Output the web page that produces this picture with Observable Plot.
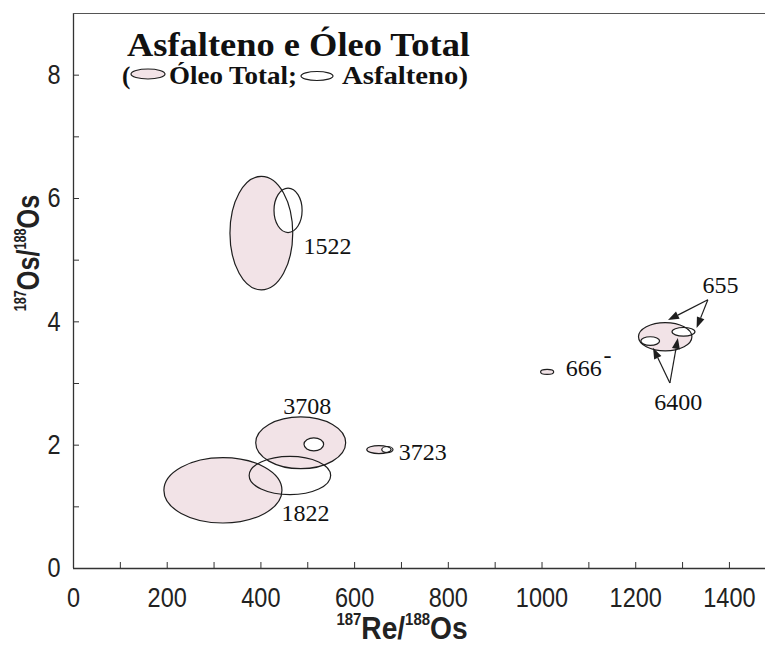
<!DOCTYPE html>
<html>
<head>
<meta charset="utf-8">
<script src="https://cdn.jsdelivr.net/npm/d3@7"></script>
<script src="https://cdn.jsdelivr.net/npm/@observablehq/plot@0.6"></script>
<style>
  body { margin: 0; background: #fff; }
  #chart { width: 765px; height: 646px; }
</style>
</head>
<body>
<div id="chart"></div>
<script>
// Óleo Total: centre (187Re/188Os, 187Os/188Os) and half-axes of each uncertainty ellipse
const oleoAmostras = ["1522", "3708", "1822", "3723", "666", "655"];
const oleoRe = [402, 486, 320, 653, 1012, 1264];
const oleoOs = [5.43, 2.03, 1.26, 1.92, 3.18, 3.75];
const oleoErroRe = [67, 96, 126, 26, 14, 57];
const oleoErroOs = [0.92, 0.42, 0.53, 0.065, 0.04, 0.23];

// Asfalteno
const asfAmostras = ["1522", "3708", "1822", "3723", "655", "6400"];
const asfRe = [459, 514, 463, 671, 1303, 1232];
const asfOs = [5.80, 2.005, 1.50, 1.92, 3.83, 3.68];
const asfErroRe = [30, 21, 87, 12, 24.5, 20];
const asfErroOs = [0.36, 0.105, 0.31, 0.05, 0.07, 0.07];

// sample labels (left-aligned ones, then centred ones)
const rotulosEsq = ["1522", "3723"];
const rotuloEsqRe = [491, 694];
const rotuloEsqOs = [5.22, 1.88];
const rotulosCentro = ["3708", "1822", "666", "-", "655", "6400"];
const rotuloCentroRe = [499, 495, 1089, 1140, 1381, 1291];
const rotuloCentroOs = [2.63, 0.89, 3.25, 3.45, 4.59, 2.69];

// leader arrows: label point -> ellipse
const setaRe1 = [1355, 1355, 1274, 1274];
const setaOs1 = [4.35, 4.35, 3.00, 3.00];
const setaRe2 = [1270, 1331, 1238, 1291];
const setaOs2 = [4.02, 3.89, 3.57, 3.73];

// axis ticks
const xTicks = [100, 200, 300, 400, 500, 600, 700, 800, 900, 1000, 1100, 1200, 1300, 1400];
const xRotulos = [0, 200, 400, 600, 800, 1000, 1200, 1400];
const yTicks = [1, 2, 3, 4, 5, 6, 7, 8];
const yRotulos = [0, 2, 4, 6, 8];

const rosa = "#f2e3e7";
const traco = "#1e1e1e";
const serif = "'Liberation Serif', 'Times New Roman', serif";
const sans = "'Liberation Sans', Arial, sans-serif";

// ellipses drawn through the plot's x/y scales
function elipses(re, os, eRe, eOs, idx, {fill = "none", stroke = "none"}) {
  return (index, scales) => {
    const g = d3.create("svg:g");
    for (const i of idx) {
      const cx = scales.x(re[i]), cy = scales.y(os[i]);
      g.append("ellipse")
        .attr("cx", cx).attr("cy", cy)
        .attr("rx", Math.abs(scales.x(re[i] + eRe[i]) - cx))
        .attr("ry", Math.abs(scales.y(os[i] + eOs[i]) - cy))
        .attr("fill", fill).attr("stroke", stroke).attr("stroke-width", 1.2);
    }
    return g.node();
  };
}

// arrows with solid triangular heads
function setas(index, scales) {
  const g = d3.create("svg:g");
  setaRe1.forEach((_, i) => {
    const x1 = scales.x(setaRe1[i]), y1 = scales.y(setaOs1[i]);
    const x2 = scales.x(setaRe2[i]), y2 = scales.y(setaOs2[i]);
    const a = Math.atan2(y2 - y1, x2 - x1);
    const L = 11, w = 4;
    const bx = x2 - L * Math.cos(a), by = y2 - L * Math.sin(a);
    g.append("line").attr("x1", x1).attr("y1", y1).attr("x2", bx).attr("y2", by)
      .attr("stroke", traco).attr("stroke-width", 1.2);
    g.append("path")
      .attr("d", `M${x2},${y2}L${bx - w * Math.sin(a)},${by + w * Math.cos(a)}L${bx + w * Math.sin(a)},${by - w * Math.cos(a)}Z`)
      .attr("fill", traco);
  });
  return g.node();
}

// axis titles with superscript isotope masses (condensed bold sans)
function titulosEixos() {
  const g = d3.create("svg:g").attr("font-family", sans).attr("font-weight", "bold").attr("fill", "#222");
  const tx = g.append("text").attr("transform", "translate(402,639) scale(0.88,1)")
    .attr("text-anchor", "middle").attr("font-size", 32);
  tx.append("tspan").attr("font-size", 17).attr("dy", -14).text("187");
  tx.append("tspan").attr("dy", 14).text("Re/");
  tx.append("tspan").attr("font-size", 17).attr("dy", -14).text("188");
  tx.append("tspan").attr("dy", 14).text("Os");
  const ty = g.append("text").attr("transform", "translate(39,253) rotate(-90) scale(0.79,1)")
    .attr("text-anchor", "middle").attr("font-size", 32);
  ty.append("tspan").attr("font-size", 16).attr("dy", -13).text("187");
  ty.append("tspan").attr("dy", 13).text("Os/");
  ty.append("tspan").attr("font-size", 16).attr("dy", -13).text("188");
  ty.append("tspan").attr("dy", 13).text("Os");
  return g.node();
}

// title block with its small key ellipses
function titulo() {
  const g = d3.create("svg:g").attr("font-family", serif).attr("font-weight", "bold")
    .attr("fill", "#111").attr("text-anchor", "start");
  g.append("text").attr("x", 127).attr("y", 56).attr("font-size", 33)
    .attr("textLength", 343).attr("lengthAdjust", "spacingAndGlyphs").text("Asfalteno e Óleo Total");
  g.append("text").attr("x", 122).attr("y", 84).attr("font-size", 25).text("(");
  g.append("ellipse").attr("cx", 148).attr("cy", 74).attr("rx", 17).attr("ry", 5)
    .attr("fill", rosa).attr("stroke", traco).attr("stroke-width", 1.2);
  g.append("text").attr("x", 169).attr("y", 84).attr("font-size", 25)
    .attr("textLength", 128).attr("lengthAdjust", "spacingAndGlyphs").text("Óleo Total;");
  g.append("ellipse").attr("cx", 317).attr("cy", 76).attr("rx", 16).attr("ry", 4.5)
    .attr("fill", "white").attr("stroke", traco).attr("stroke-width", 1.2);
  g.append("text").attr("x", 342).attr("y", 84).attr("font-size", 25)
    .attr("textLength", 126).attr("lengthAdjust", "spacingAndGlyphs").text("Asfalteno)");
  return g.node();
}

const todosOleo = oleoAmostras.map((_, i) => i);
const todosAsf = asfAmostras.map((_, i) => i);
const asfBrancos = todosAsf.filter(i => asfAmostras[i] !== "1822");

const plot = Plot.plot({
  width: 765,
  height: 646,
  marginLeft: 73,
  marginRight: 0,
  marginTop: 13,
  marginBottom: 78,
  x: {domain: [0, 1477], axis: null},
  y: {domain: [0, 9], axis: null},
  style: {background: "white", color: "#222", fontFamily: sans},
  marks: [
    elipses(oleoRe, oleoOs, oleoErroRe, oleoErroOs, todosOleo, {fill: rosa}),
    elipses(asfRe, asfOs, asfErroRe, asfErroOs, asfBrancos, {fill: "white"}),
    elipses(oleoRe, oleoOs, oleoErroRe, oleoErroOs, todosOleo, {stroke: traco}),
    elipses(asfRe, asfOs, asfErroRe, asfErroOs, todosAsf, {stroke: traco}),
    setas,
    Plot.text(rotulosEsq, {
      x: (d, i) => rotuloEsqRe[i], y: (d, i) => rotuloEsqOs[i], text: d => d,
      textAnchor: "start", fontFamily: serif, fontSize: 24, fill: "#111"
    }),
    Plot.text(rotulosCentro, {
      x: (d, i) => rotuloCentroRe[i], y: (d, i) => rotuloCentroOs[i], text: d => d,
      textAnchor: "middle", fontFamily: serif, fontSize: 24, fill: "#111"
    }),
    // frame: left, bottom and top edges
    Plot.ruleX([0], {stroke: "#333", strokeWidth: 1.3}),
    Plot.ruleY([0], {stroke: "#333", strokeWidth: 1.3}),
    Plot.ruleY([9], {stroke: "#555", strokeWidth: 1}),
    // inward ticks
    Plot.ruleY(yTicks, {y: d => d, stroke: "#333", insetRight: 686}),
    Plot.ruleX(xTicks, {x: d => d, stroke: "#333", insetTop: 549}),
    Plot.axisX({ticks: xRotulos, tickSize: 0, tickPadding: 19, fontSize: 28, tickFormat: d => String(d), label: null}),
    Plot.axisY({ticks: yRotulos, tickSize: 0, tickPadding: 13, fontSize: 28, tickFormat: d => String(d), label: null}),
    titulosEixos,
    titulo
  ]
});

// narrow the tick-label glyphs horizontally
d3.select(plot).selectAll("g[aria-label$='tick label'] text")
  .attr("transform", function () { return (this.getAttribute("transform") || "") + " scale(0.84,1)"; });

document.getElementById("chart").append(plot);
</script>
</body>
</html>
